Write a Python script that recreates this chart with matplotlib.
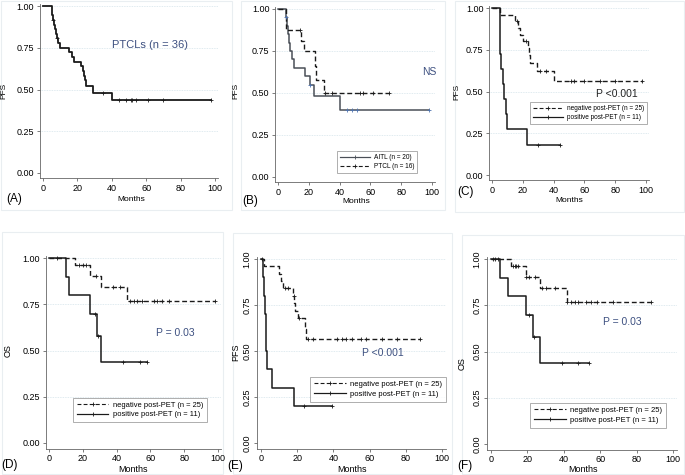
import numpy as np
import matplotlib
matplotlib.use("Agg")
import matplotlib.pyplot as plt
from matplotlib.patches import Rectangle

plt.rcParams['font.family'] = ['Liberation Sans', 'DejaVu Sans']

W, H = 685, 475

# ---- data ----
# (A) all PTCLs
a_times = [0, 5, 5.5, 6, 6.5, 7, 7.5, 8, 9, 10, 15, 17, 18, 22, 23, 24, 24.5, 25, 29, 40]
a_surv = [1.0, 0.972, 0.944, 0.917, 0.889, 0.861, 0.833, 0.806, 0.778, 0.75,
          0.722, 0.694, 0.667, 0.639, 0.611, 0.583, 0.556, 0.52, 0.48, 0.44]
a_end = 97.5
a_cens = [6, 8, 35, 44, 48, 51, 52, 54, 61, 70, 97.5]

# (B) AITL vs PTCL
b1_times = [0, 5.5, 6, 6.5, 7, 8, 9, 10.5, 17.5, 20.5, 23.5, 40]
b1_surv = [1.0, 0.95, 0.9, 0.85, 0.8, 0.75, 0.7, 0.65, 0.6, 0.55, 0.48, 0.40]
b1_end = 98
b1_cens = [5.5, 21, 44.5, 48, 51, 98]
b2_times = [0, 5, 5.5, 15, 17, 24, 24.5, 30]
b2_surv = [1.0, 0.94, 0.875, 0.81, 0.75, 0.66, 0.58, 0.50]
b2_end = 72
b2_cens = [14, 30.5, 35, 53, 55, 62, 72]

# (C) PFS by post-PET
c1_times = [0, 5, 15, 17, 18, 20, 23.5, 24, 24.5, 29, 40]
c1_surv = [1.0, 0.96, 0.92, 0.88, 0.84, 0.80, 0.76, 0.72, 0.67, 0.62, 0.56]
c1_end = 97.5
c1_cens = [16, 22, 31, 35, 51, 53, 60, 70, 80, 97.5]
c2_times = [0, 5, 5.2, 5.5, 6, 7, 8, 9, 10, 23]
c2_surv = [1.0, 0.909, 0.818, 0.727, 0.636, 0.545, 0.455, 0.364, 0.273, 0.182]
c2_end = 44
c2_cens = [30, 44]

# (D) OS by post-PET
d1_times = [0, 15.5, 24, 31, 46]
d1_surv = [1.0, 0.96, 0.905, 0.845, 0.77]
d1_end = 98
d1_cens = [5, 18, 20, 22, 28, 38, 42, 48, 50, 52, 55, 62, 64, 67, 71, 98]
d2_times = [0, 10, 12, 24.5, 28.5, 30.5]
d2_surv = [1.0, 0.9, 0.8, 0.7, 0.58, 0.44]
d2_end = 58
d2_cens = [27, 29, 44, 54, 58]

# (E) PFS by post-PET
e1_times = [0, 1.5, 10, 11, 12, 17.5, 18.5, 19, 20.5, 24.5, 25]
e1_surv = [1.0, 0.96, 0.92, 0.88, 0.84, 0.80, 0.76, 0.72, 0.68, 0.62, 0.565]
e1_end = 88
e1_cens = [13, 15, 18, 21, 26, 29, 42, 45, 47, 50, 55, 58, 67, 75, 88]
e2_times = [0, 1, 1.5, 2, 2.5, 3, 3.2, 6, 18]
e2_surv = [1.0, 0.9, 0.8, 0.7, 0.6, 0.5, 0.4, 0.3, 0.2]
e2_end = 39
e2_cens = [0.5, 23.5, 39]

# (F) OS by post-PET
f1_times = [0, 11, 19, 27, 41.5]
f1_surv = [1.0, 0.96, 0.905, 0.845, 0.77]
f1_end = 88
f1_cens = [2, 4, 12, 13, 14, 15, 19.5, 21, 24, 28, 30, 35, 42, 44, 46, 48, 52, 55, 58, 67, 88]
f2_times = [0, 5, 9.5, 19, 23, 27]
f2_surv = [1.0, 0.9, 0.8, 0.7, 0.58, 0.44]
f2_end = 54
f2_cens = [1, 21, 23.5, 39, 48, 54]

yticks = [0, 0.25, 0.5, 0.75, 1.0]
xticks = [0, 20, 40, 60, 80, 100]

NEG = "negative post-PET (n = 25)"
POS = "positive post-PET (n = 11)"
BLUE = '#3d5080'
DASH = (0, (3.5, 2))


def fx(x, y):
    return x / W, 1 - y / H


def make_axes(fig, x0, x100, y1, y0):
    # place axes so that x=0/100 and y=1/0 land on given pixels
    ppm = (x100 - x0) / 100
    ppu = y0 - y1
    left = x0 - 2 * ppm
    right = x100 + 2 * ppm
    top = y1 - 0.01 * ppu
    bottom = y0 + 0.03 * ppu
    ax = fig.add_axes([left / W, 1 - bottom / H, (right - left) / W, (bottom - top) / H])
    ax.set_xlim(-2, 102)
    ax.set_ylim(-0.03, 1.01)
    for s in ('top', 'right'):
        ax.spines[s].set_visible(False)
    for s in ('left', 'bottom'):
        ax.spines[s].set_color('#666666')
        ax.spines[s].set_linewidth(0.6)
    ax.set_xticks(xticks)
    ax.set_yticks(yticks)
    ax.set_yticklabels([f"{v:.2f}" for v in yticks])
    ax.tick_params(length=2.5, width=0.6, color='#666666', labelsize=6.5, pad=1.5)
    for v in yticks[1:]:
        ax.axhline(v, color='#d5e4ea', lw=0.6, ls=(0, (1, 1)), zorder=0)
    return ax


def km(ax, times, surv, end, cens, ls='-', color='#1a1a1a', mcolor=None, lw=1.1, label=None):
    t = list(times) + [end]
    s = list(surv) + [surv[-1]]
    ax.step(t, s, where='post', color=color, ls=ls, lw=lw, zorder=3)
    idx = np.searchsorted(times, cens, side='right') - 1
    cs = np.array(surv)[idx]
    ax.plot(cens, cs, ls='none', marker='+', ms=3, mew=0.6,
            color=mcolor or color, zorder=4)
    # legend proxy
    ax.plot([], [], color=color, ls=ls, lw=lw * 0.8, marker='+', ms=3, mew=0.6,
            markevery=[1], label=label)


def legend_at(ax, fig, x, y, fs, hl=4.5):
    leg = ax.legend(loc='upper left', bbox_to_anchor=fx(x, y), bbox_transform=fig.transFigure,
                    fontsize=fs, frameon=True, fancybox=False, handlelength=hl,
                    borderpad=0.5, labelspacing=0.3, handletextpad=0.6, borderaxespad=0)
    leg.get_frame().set_edgecolor('#8a8a8a')
    leg.get_frame().set_linewidth(0.6)
    return leg


fig = plt.figure(figsize=(W / 100, H / 100), dpi=100)
fig.patch.set_facecolor('white')

# faint panel frames
for (x, y, w, h) in [(1, 1, 231, 209), (241, 1, 204, 209), (455, 1, 229, 211),
                     (2, 232, 221, 242), (233, 233, 219, 241), (462, 235, 222, 239)]:
    fig.add_artist(Rectangle((x / W, 1 - (y + h) / H), w / W, h / H, transform=fig.transFigure,
                             fill=False, edgecolor='#e9eef1', lw=0.8, zorder=0))

# (A)
ax = make_axes(fig, 43, 215, 6, 173)
km(ax, a_times, a_surv, a_end, a_cens, lw=1.3)
ax.text(*fx(150, 45), "PTCLs (n = 36)", transform=fig.transFigure, ha='center', va='center',
        fontsize=8, color=BLUE)
ax.set_ylabel("PFS", fontsize=6)
ax.yaxis.set_label_coords(*fx(7, 91), transform=fig.transFigure)
ax.set_xlabel("Months", fontsize=6)
ax.xaxis.set_label_coords(*fx(131, 196), transform=fig.transFigure)
fig.text(*fx(14, 199), "(A)", ha='center', va='center', fontsize=8.5)

# (B)
ax = make_axes(fig, 278, 432, 9, 177)
km(ax, b1_times, b1_surv, b1_end, b1_cens, color='#4a4f57', mcolor='#4f74b0', lw=1.1,
   label="AITL (n = 20)")
km(ax, b2_times, b2_surv, b2_end, b2_cens, ls=DASH, lw=1.0, label="PTCL (n = 16)")
ax.text(*fx(429, 72), "NS", transform=fig.transFigure, ha='center', va='center',
        fontsize=7.5, color=BLUE)
legend_at(ax, fig, 337, 151, 4.7, hl=4.5)
ax.set_ylabel("PFS", fontsize=6)
ax.yaxis.set_label_coords(*fx(239, 91), transform=fig.transFigure)
ax.set_xlabel("Months", fontsize=6)
ax.xaxis.set_label_coords(*fx(356, 198), transform=fig.transFigure)
fig.text(*fx(250, 201), "(B)", ha='center', va='center', fontsize=8.5)

# (C)
ax = make_axes(fig, 492, 646, 8, 175)
km(ax, c1_times, c1_surv, c1_end, c1_cens, ls=DASH, lw=1.0, label=NEG)
km(ax, c2_times, c2_surv, c2_end, c2_cens, lw=1.1, label=POS)
ax.text(*fx(617, 94), "P <0.001", transform=fig.transFigure, ha='center', va='center',
        fontsize=7.5, color='#222222')
legend_at(ax, fig, 530, 102, 4.7, hl=4.5)
ax.set_ylabel("PFS", fontsize=6)
ax.yaxis.set_label_coords(*fx(460, 92), transform=fig.transFigure)
ax.set_xlabel("Months", fontsize=6)
ax.xaxis.set_label_coords(*fx(569, 197), transform=fig.transFigure)
fig.text(*fx(466, 192), "(C)", ha='center', va='center', fontsize=8.5)

# (D)
ax = make_axes(fig, 49, 218, 258, 443)
km(ax, d1_times, d1_surv, d1_end, d1_cens, ls=DASH, lw=1.0, label=NEG)
km(ax, d2_times, d2_surv, d2_end, d2_cens, lw=1.1, label=POS)
ax.text(*fx(175, 333), "P = 0.03", transform=fig.transFigure, ha='center', va='center',
        fontsize=7.5, color=BLUE)
legend_at(ax, fig, 73, 398, 5.4, hl=4.2)
ax.set_ylabel("OS", fontsize=6.5)
ax.yaxis.set_label_coords(*fx(13, 351), transform=fig.transFigure)
ax.set_xlabel("Months", fontsize=6.5)
ax.xaxis.set_label_coords(*fx(133, 465), transform=fig.transFigure)
fig.text(*fx(10, 465), "(D)", ha='center', va='center', fontsize=8.5)

# (E)
ax = make_axes(fig, 261, 442, 259, 443)
km(ax, e1_times, e1_surv, e1_end, e1_cens, ls=DASH, lw=1.0, label=NEG)
km(ax, e2_times, e2_surv, e2_end, e2_cens, lw=1.1, label=POS)
ax.text(*fx(383, 353), "P <0.001", transform=fig.transFigure, ha='center', va='center',
        fontsize=7.5, color=BLUE)
legend_at(ax, fig, 310, 377, 5.5, hl=4.2)
plt.setp(ax.get_yticklabels(), rotation=90, va='center')
ax.set_ylabel("PFS", fontsize=6.5)
ax.yaxis.set_label_coords(*fx(240, 352), transform=fig.transFigure)
ax.set_xlabel("Months", fontsize=6.5)
ax.xaxis.set_label_coords(*fx(352, 465), transform=fig.transFigure)
fig.text(*fx(235, 466), "(E)", ha='center', va='center', fontsize=8.5)

# (F)
ax = make_axes(fig, 491, 673, 259, 444)
km(ax, f1_times, f1_surv, f1_end, f1_cens, ls=DASH, lw=1.0, label=NEG)
km(ax, f2_times, f2_surv, f2_end, f2_cens, lw=1.1, label=POS)
ax.text(*fx(622, 322), "P = 0.03", transform=fig.transFigure, ha='center', va='center',
        fontsize=7.5, color=BLUE)
legend_at(ax, fig, 530, 403, 5.5, hl=4.2)
plt.setp(ax.get_yticklabels(), rotation=90, va='center')
ax.set_ylabel("OS", fontsize=6.5)
ax.yaxis.set_label_coords(*fx(467, 364), transform=fig.transFigure)
ax.set_xlabel("Months", fontsize=6.5)
ax.xaxis.set_label_coords(*fx(583, 465), transform=fig.transFigure)
fig.text(*fx(465, 466), "(F)", ha='center', va='center', fontsize=8.5)

fig.savefig("out.png", dpi=100, facecolor='white')
